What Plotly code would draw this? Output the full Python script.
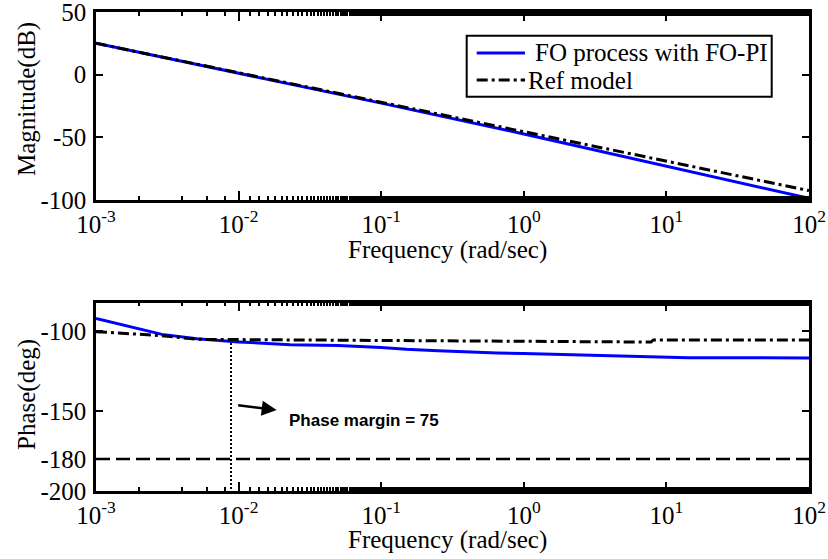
import plotly.graph_objects as go

# ---- data -------------------------------------------------------------
# frequency grid (rad/sec) for the FO-PI phase curve
freq = [1e-3, 2.9e-3, 5.1e-3, 1e-2, 2.3e-2, 5e-2, 1e-1, 1.5e-1, 2.5e-1, 3.9e-1,
        6.5e-1, 1.0, 1.8, 3.2, 6.3, 1e1, 1.42e1, 3e1, 1e2]

# magnitude (dB) at decade points
mag_freq = [1e-3, 1e-2, 1e-1, 1e0, 1e1, 1e2]
mag_fopi = [25.0, 1.3, -22.7, -47.3, -72.8, -98.7]
mag_ref = [25.0, 1.5, -22.0, -45.5, -69.0, -92.5]

# phase (deg)
phase_fopi = [-92.1, -102.1, -104.8, -106.8, -108.6, -109.0, -110.3, -111.4, -112.3,
              -113.1, -113.7, -114.1, -114.6, -115.1, -115.8, -116.2, -116.7, -116.7, -116.8]
phase_ref_freq = [1e-3, 2.9e-3, 5.1e-3, 1e-1, 1e0, 7.8, 8.1, 1e2]
phase_ref = [-100.4, -102.9, -105.2, -105.8, -106.3, -106.9, -105.6, -105.6]

# stability margin marker
crossover_freq = 8.85e-3
phase_margin = 75
phase_limit = -180

# axis ticks
x_tickvals = [1e-3, 1e-2, 1e-1, 1e0, 1e1, 1e2]
x_ticktext = ["10<sup>-3</sup>", "10<sup>-2</sup>", "10<sup>-1</sup>",
              "10<sup>0</sup>", "10<sup>1</sup>", "10<sup>2</sup>"]
mag_tickvals = [-100, -50, 0, 50]
mag_ticktext = ["-100", "-50", "0", "50"]
ph_tickvals = [-200, -180, -150, -100]
ph_ticktext = ["-200", "-180", "-150", "-100"]

series_names = ["FO process with FO-PI", "Ref model"]

# ---- figure -----------------------------------------------------------
W, H = 828, 559
FONT = "Liberation Serif"
FS = 25
BLUE = "rgb(0,0,255)"
DASHDOT = "11px,4px,3px,4px"
fopi_line = dict(color=BLUE, width=3)
ref_line = dict(color="black", width=3, dash=DASHDOT)

fig = go.Figure()

fig.add_trace(go.Scatter(x=mag_freq, y=mag_fopi, mode="lines", name=series_names[0],
                         line=fopi_line, xaxis="x", yaxis="y"))
fig.add_trace(go.Scatter(x=mag_freq, y=mag_ref, mode="lines", name=series_names[1],
                         line=ref_line, xaxis="x", yaxis="y"))

fig.add_trace(go.Scatter(x=freq, y=phase_fopi, mode="lines", name=series_names[0],
                         line=fopi_line, xaxis="x2", yaxis="y2"))
fig.add_trace(go.Scatter(x=phase_ref_freq, y=phase_ref, mode="lines", name=series_names[1],
                         line=ref_line, xaxis="x2", yaxis="y2"))
fig.add_trace(go.Scatter(x=[x_tickvals[0], x_tickvals[-1]], y=[phase_limit, phase_limit],
                         mode="lines", line=dict(color="black", width=2.5, dash="14px,6px"),
                         xaxis="x2", yaxis="y2"))
fig.add_trace(go.Scatter(x=[crossover_freq, crossover_freq],
                         y=[phase_limit + phase_margin, ph_tickvals[0]],
                         mode="lines", line=dict(color="black", width=2, dash="2px,2px"),
                         xaxis="x2", yaxis="y2"))

xdom = [96 / W, 809 / W]
common_x = dict(type="log", range=[-3, 2], tickvals=x_tickvals, ticktext=x_ticktext,
                ticks="inside", ticklen=9, tickwidth=2, tickcolor="black",
                showline=True, linecolor="black", linewidth=2.5, mirror="ticks",
                showgrid=False, zeroline=False, domain=xdom, automargin=False,
                ticklabelstandoff=0, ticklabeloverflow="allow",
                tickfont=dict(family=FONT, size=FS, color="black"),
                minor=dict(ticks="inside", ticklen=4, tickwidth=2, tickcolor="black",
                           showgrid=False))
common_y = dict(ticks="inside", ticklen=7, tickwidth=2, tickcolor="black",
                showline=True, linecolor="black", linewidth=2.5, mirror="ticks",
                showgrid=False, zeroline=False, ticklabelstandoff=2, automargin=False,
                ticklabeloverflow="allow",
                tickfont=dict(family=FONT, size=FS, color="black"))

fig.update_layout(
    template="none",
    width=W, height=H,
    margin=dict(l=0, r=0, t=0, b=0, pad=0),
    paper_bgcolor="white", plot_bgcolor="white",
    showlegend=False,
    xaxis=dict(**common_x, anchor="y"),
    yaxis=dict(**common_y, range=[-100, 50], tickvals=mag_tickvals, ticktext=mag_ticktext,
               domain=[1 - 200 / H, 1 - 12 / H], anchor="x"),
    xaxis2=dict(**common_x, anchor="y2"),
    yaxis2=dict(**common_y, range=[-200, -82.3], tickvals=ph_tickvals, ticktext=ph_ticktext,
                domain=[1 - 491 / H, 1 - 302.7 / H], anchor="x2"),
)

# legend box (paper coordinates, y measured from the top of the page)
def px(x):
    return x / W


def py(y):
    return 1 - y / H


fig.add_shape(type="rect", xref="paper", yref="paper",
              x0=px(466.7), x1=px(771.7), y0=py(96.7), y1=py(35.7),
              line=dict(color="black", width=2), fillcolor="white", layer="above")
fig.add_shape(type="line", xref="paper", yref="paper",
              x0=px(476.7), x1=px(525), y0=py(53), y1=py(53),
              line=fopi_line, layer="above")
fig.add_shape(type="line", xref="paper", yref="paper",
              x0=px(476.7), x1=px(525), y0=py(80), y1=py(80),
              line=ref_line, layer="above")
legend_font = dict(family=FONT, size=FS, color="black")
fig.add_annotation(text=series_names[0], xref="paper", yref="paper",
                   x=px(533), y=py(53), xanchor="left", yanchor="middle",
                   showarrow=False, font=legend_font)
fig.add_annotation(text=series_names[1], xref="paper", yref="paper",
                   x=px(526), y=py(80), xanchor="left", yanchor="middle",
                   showarrow=False, font=legend_font)

# axis titles
title_font = dict(family=FONT, size=FS, color="black")
fig.add_annotation(text="Magnitude(dB)", xref="paper", yref="paper",
                   x=px(27), y=py(99), textangle=-90, showarrow=False,
                   xanchor="center", yanchor="middle", font=title_font)
fig.add_annotation(text="Frequency (rad/sec)", xref="paper", yref="paper",
                   x=px(448), y=py(250), showarrow=False,
                   xanchor="center", yanchor="middle", font=title_font)
fig.add_annotation(text="Phase(deg)", xref="paper", yref="paper",
                   x=px(27), y=py(395), textangle=-90, showarrow=False,
                   xanchor="center", yanchor="middle", font=title_font)
fig.add_annotation(text="Frequency (rad/sec)", xref="paper", yref="paper",
                   x=px(448), y=py(540), showarrow=False,
                   xanchor="center", yanchor="middle", font=title_font)

# phase margin note with arrow
fig.add_annotation(text="", xref="x2", yref="y2", x=-1.733, y=-149.4,
                   ax=-40, ay=-5, showarrow=True, arrowhead=2, arrowsize=1.2,
                   arrowwidth=2.5, arrowcolor="black")
fig.add_annotation(text="<b>Phase margin = %d</b>" % phase_margin, xref="x2", yref="y2",
                   x=-1.663, y=-156.1, showarrow=False, xanchor="left", yanchor="middle",
                   font=dict(family="Liberation Sans", size=17, color="black"))

fig.write_html("out.html")
